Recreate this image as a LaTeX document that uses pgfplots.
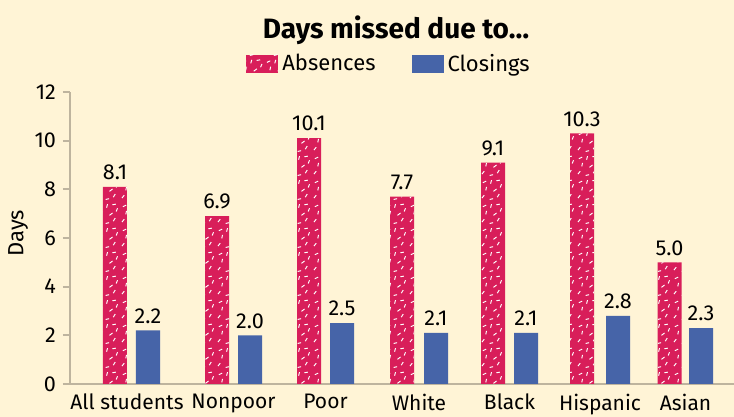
\documentclass[border=0pt]{standalone}
\usepackage{fontspec}
\setmainfont{Fira Sans}
\usepackage{pgfplots}
\pgfplotsset{compat=1.18}
\usetikzlibrary{patterns}
\definecolor{bgcream}{RGB}{255,244,214}
\definecolor{absc}{RGB}{216,30,90}
\definecolor{clos}{RGB}{70,100,168}
\definecolor{axisgray}{RGB}{190,180,158}

% white confetti dashes on the absence bars
\pgfdeclarepatternformonly{confetti}{\pgfqpoint{0pt}{0pt}}{\pgfqpoint{12pt}{12pt}}{\pgfqpoint{12pt}{12pt}}{%
  \pgfsetlinewidth{0.5pt}
  \pgfpathmoveto{\pgfqpoint{1.0pt}{1.5pt}}\pgfpathlineto{\pgfqpoint{2.2pt}{3.0pt}}
  \pgfpathmoveto{\pgfqpoint{5.0pt}{0.8pt}}\pgfpathlineto{\pgfqpoint{6.8pt}{1.2pt}}
  \pgfpathmoveto{\pgfqpoint{9.0pt}{2.0pt}}\pgfpathlineto{\pgfqpoint{10.0pt}{3.6pt}}
  \pgfpathmoveto{\pgfqpoint{3.0pt}{5.5pt}}\pgfpathlineto{\pgfqpoint{3.4pt}{7.3pt}}
  \pgfpathmoveto{\pgfqpoint{7.0pt}{5.0pt}}\pgfpathlineto{\pgfqpoint{8.6pt}{6.2pt}}
  \pgfpathmoveto{\pgfqpoint{10.5pt}{7.0pt}}\pgfpathlineto{\pgfqpoint{11.2pt}{8.7pt}}
  \pgfpathmoveto{\pgfqpoint{1.5pt}{9.5pt}}\pgfpathlineto{\pgfqpoint{3.2pt}{10.3pt}}
  \pgfpathmoveto{\pgfqpoint{5.5pt}{9.0pt}}\pgfpathlineto{\pgfqpoint{6.0pt}{10.8pt}}
  \pgfpathmoveto{\pgfqpoint{8.5pt}{10.5pt}}\pgfpathlineto{\pgfqpoint{10.3pt}{10.8pt}}
  \pgfusepath{stroke}}

\begin{document}
\begin{tikzpicture}
\fill[bgcream] (0pt,-16.5pt) rectangle (367pt,192pt);
\begin{axis}[
    at={(35pt,0pt)}, anchor=south west,
    scale only axis, width=332pt, height=146pt,
    xmin=70, xmax=734, ymin=0, ymax=12,
    clip=false,
    ybar, bar width=12pt,
    axis x line*=bottom, axis y line*=left,
    axis line style={-, draw=axisgray, line width=1pt},
    xtick={127,233.5,325.5,419,509.5,600,685.5},
    xticklabels={All students,Nonpoor,Poor,White,Black,Hispanic,Asian},
    xtick style={draw=none},
    ytick={0,2,...,12},
    tick align=outside, major tick length=3.5pt,
    ytick style={draw=axisgray, line width=1pt},
    yticklabel style={font=\fontsize{10.8}{13}\selectfont},
    xticklabel style={font=\fontsize{10.5}{12}\selectfont, yshift=2pt},
    /pgf/number format/assume math mode=true,
    ylabel={Days},
    ylabel style={font=\fontsize{11}{13}\selectfont, at={(rel axis cs:-0.078,0.517)}, anchor=center},
    nodes near coords,
    point meta=y,
    nodes near coords style={font=\fontsize{10.8}{13}\selectfont, text=black,
      /pgf/number format/.cd, fixed, fixed zerofill, precision=1, assume math mode=true},
    legend columns=2,
    legend style={at={(rel axis cs:0.482,1.096)}, anchor=center, draw=none, fill=none,
      font=\fontsize{11}{13}\selectfont,
      /tikz/every even column/.append style={column sep=16pt}},
    legend image code/.code={\draw[#1, draw=none] (0pt,-4.5pt) rectangle (16pt,4.5pt);},
  ]
  \addplot[fill=absc, draw=none, bar shift=0pt, postaction={pattern=confetti, pattern color=white}]
    coordinates {(115,8.1) (217,6.9) (309,10.1) (402,7.7) (493,9.1) (582,10.3) (669.5,5.0)};
  \addlegendentry{Absences}
  \addplot[fill=clos, draw=none, bar shift=0pt]
    coordinates {(148,2.2) (250,2.0) (342,2.5) (436,2.1) (526,2.1) (618,2.8) (701,2.3)};
  \addlegendentry{Closings}
\end{axis}
\node[font=\bfseries\fontsize{14}{16}\selectfont] at (198pt,177pt) {Days missed due to…};
\pgfresetboundingbox
\path (0pt,-16.5pt) rectangle (367pt,192pt);
\end{tikzpicture}
\end{document}
